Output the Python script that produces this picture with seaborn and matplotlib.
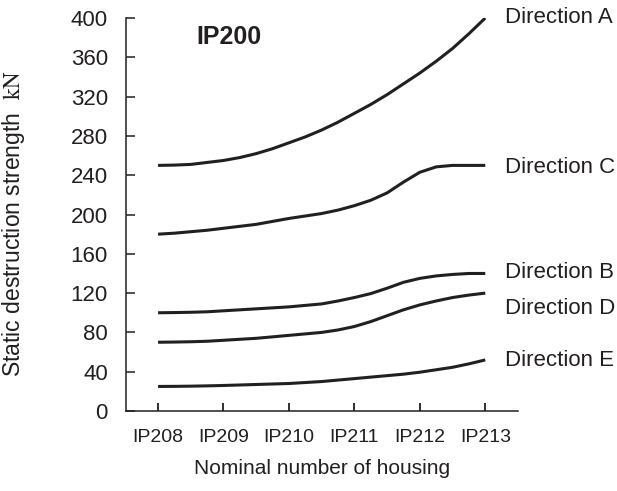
import matplotlib
matplotlib.use("Agg")
import matplotlib.pyplot as plt
import seaborn as sns
import pandas as pd

# ---- data ----
housing_labels = ["IP208", "IP209", "IP210", "IP211", "IP212", "IP213"]
x_pos = [0, 0.25, 0.5, 0.75, 1.0, 1.25, 1.5, 1.75, 2.0, 2.25, 2.5,
         2.75, 3.0, 3.25, 3.5, 3.75, 4.0, 4.25, 4.5, 4.75, 5.0]
dir_a = [250, 250.3, 251, 253, 255, 258, 262, 267, 273, 279, 286,
         294, 303, 312, 322, 333, 344, 356, 369, 384, 400]
dir_c = [180, 181, 182.5, 184, 186, 188, 190, 193, 196, 198.5, 201,
         204.5, 209, 214.5, 222, 233, 243, 248.5, 250, 250, 250]
dir_b = [100, 100.2, 100.5, 101, 102, 103, 104, 105, 106, 107.5, 109,
         112, 115.5, 119.5, 125, 131, 135, 137.5, 139, 140, 140]
dir_d = [70, 70.2, 70.5, 71, 72, 73, 74, 75.5, 77, 78.5, 80,
         82.5, 86, 91, 97, 103, 108, 112, 115.5, 118, 120]
dir_e = [25, 25.1, 25.3, 25.6, 26, 26.5, 27, 27.5, 28, 29, 30,
         31.5, 33, 34.5, 36, 37.5, 39.5, 42, 44.5, 48, 52]
series_names = ["Direction A", "Direction C", "Direction B", "Direction D", "Direction E"]
label_y = [395, 242, 135, 99, 46]
y_ticks = [0, 40, 80, 120, 160, 200, 240, 280, 320, 360, 400]

sns.set_theme(style="white")
plt.rcParams["font.family"] = ["Liberation Sans", "DejaVu Sans"]
plt.rcParams["mathtext.fontset"] = "stix"

ink = "#231f20"
all_series = [dir_a, dir_c, dir_b, dir_d, dir_e]
frames = []
for name, vals in zip(series_names, all_series):
    frames.append(pd.DataFrame({"x": x_pos, "y": vals, "series": name}))
df = pd.concat(frames, ignore_index=True)

fig = plt.figure(figsize=(6.17, 4.91), dpi=100)
ax = fig.add_axes([0.2042, 0.1629, 0.6353, 0.8004])

sns.lineplot(data=df, x="x", y="y", hue="series",
             palette={n: ink for n in series_names},
             linewidth=2.2, legend=False, ax=ax, sort=True)
for ln in ax.lines:
    ln.set_solid_joinstyle("round")
    ln.set_solid_capstyle("butt")

ax.set_xlim(-0.49, 5.5)
ax.set_ylim(0, 400)
ax.set_xticks(range(len(housing_labels)))
ax.set_xticklabels(housing_labels)
ax.set_yticks(y_ticks)

for s in ["top", "right"]:
    ax.spines[s].set_visible(False)
for s in ["left", "bottom"]:
    ax.spines[s].set_color(ink)
    ax.spines[s].set_linewidth(1.1)

ax.tick_params(axis="x", direction="in", length=6, width=1.3, color=ink,
               pad=13, labelsize=14, labelcolor=ink, bottom=True)
ax.tick_params(axis="y", direction="in", length=6.5, width=1.1, color=ink,
               pad=13, labelsize=16, labelcolor=ink, left=True)

ax.set_xlabel("Nominal number of housing", fontsize=15, color=ink, labelpad=9)
ax.set_ylabel("Static destruction strength  $\\mathrm{kN}$", fontsize=16.5, color=ink)
ax.yaxis.set_label_coords(-0.252, 0.478)

for name, yv in zip(series_names, label_y):
    ax.text(5.3, yv, name, fontsize=16, color=ink, ha="left", va="baseline",
            clip_on=False)

ax.text(1.08, 381, "IP200", fontsize=18, fontweight="bold", color=ink,
        ha="center", va="center")

ax.grid(False)
fig.savefig("out.png", dpi=100)
